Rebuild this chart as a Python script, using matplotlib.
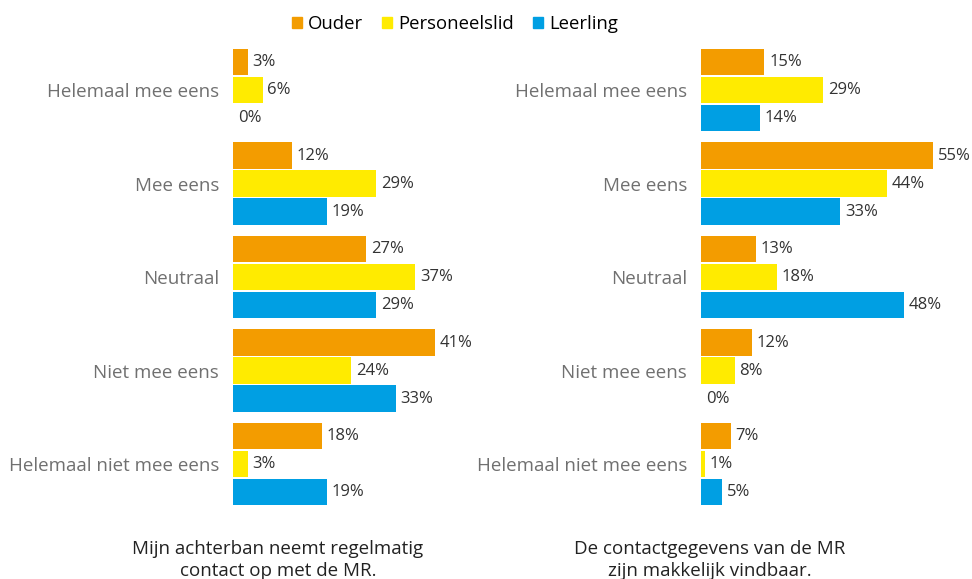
import numpy as np
import matplotlib.pyplot as plt
from matplotlib.patches import Patch

plt.rcParams['font.family'] = ['Open Sans', 'DejaVu Sans']

categories = ['Helemaal mee eens', 'Mee eens', 'Neutraal', 'Niet mee eens', 'Helemaal niet mee eens']
series = ['Ouder', 'Personeelslid', 'Leerling']
colors = ['#F39C00', '#FFEB00', '#009FE3']

# links: Mijn achterban neemt regelmatig contact op met de MR.
left_ouder = [3, 12, 27, 41, 18]
left_personeel = [6, 29, 37, 24, 3]
left_leerling = [0, 19, 29, 33, 19]

# rechts: De contactgegevens van de MR zijn makkelijk vindbaar.
right_ouder = [15, 55, 13, 12, 7]
right_personeel = [29, 44, 18, 8, 1]
right_leerling = [14, 33, 48, 0, 5]

titles = ['Mijn achterban neemt regelmatig\ncontact op met de MR.',
          'De contactgegevens van de MR\nzijn makkelijk vindbaar.']

W, H = 972, 579
fig = plt.figure(figsize=(W / 100, H / 100), dpi=100)

def add_panel(x0, xmax, data, title, title_x):
    # axes in pixel units -> figure fraction
    ax = fig.add_axes([x0 / W, (H - 508) / H, 240 / W, 460 / H])
    y = np.arange(len(categories))
    for k, vals in enumerate(data):
        pos = y + (k - 1) * 0.3
        ax.barh(pos, vals, height=0.285, color=colors[k])
        for p, v in zip(pos, vals):
            ax.text(v + xmax * 0.02, p, f'{v}%', va='center', ha='left',
                    fontsize=12, color='#333333', clip_on=False)
    ax.set_xlim(0, xmax)
    ax.set_ylim(4.47, -0.45)
    ax.set_yticks(y)
    ax.set_yticklabels(categories, fontsize=13.5, color='#707070')
    ax.tick_params(axis='y', length=0, pad=10)
    ax.set_xticks([])
    for s in ax.spines.values():
        s.set_visible(False)
    fig.text(title_x / W, 1 - 560 / H, title, ha='center', va='center',
             fontsize=13.5, color='#222222', linespacing=1.3)
    return ax

add_panel(233, 240 / 4.93, [left_ouder, left_personeel, left_leerling], titles[0], 278)
add_panel(701, 240 / 4.22, [right_ouder, right_personeel, right_leerling], titles[1], 710)

handles = [Patch(color=c, label=s) for c, s in zip(colors, series)]
fig.legend(handles=handles, loc='center', bbox_to_anchor=(455 / W, 1 - 24 / H), ncol=3,
           frameon=False, fontsize=13.3, handlelength=0.55, handleheight=0.55,
           handletextpad=0.35, columnspacing=1.0)

plt.savefig('out.png', dpi=100)
